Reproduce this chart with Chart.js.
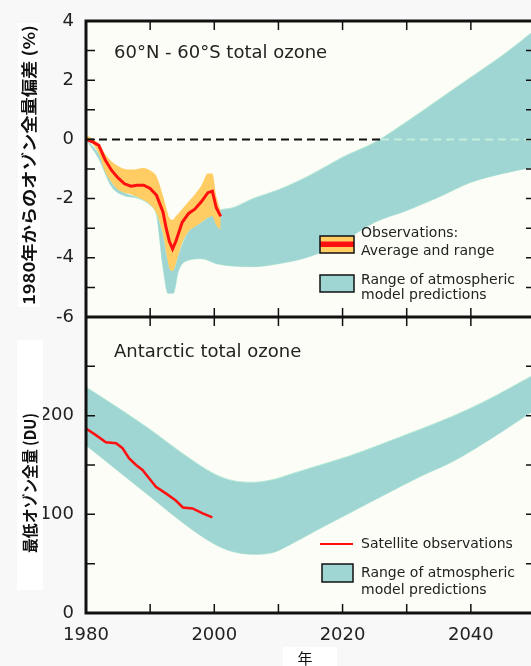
<!DOCTYPE html>
<html>
<head>
<meta charset="utf-8">
<script src="https://cdn.jsdelivr.net/npm/chart.js@4.4.1/dist/chart.umd.min.js"></script>
<style>
  html, body { margin: 0; padding: 0; background: #f8f8f8; overflow: hidden; }
  #wrap { width: 540px; height: 666px; }
</style>
</head>
<body>
<div id="wrap"><canvas id="ozone" width="540" height="666"></canvas></div>
<script>
// 60N-60S total ozone, deviation from 1980 (%)
const obsYears = [1980, 1981, 1982, 1983, 1984, 1985, 1986, 1987, 1988, 1989, 1990, 1991, 1992, 1992.5, 1993, 1993.5, 1994, 1995, 1996, 1997, 1998, 1999, 1999.7, 2000.3, 2001];
const obsAverage = [0.0, -0.08, -0.2, -0.7, -1.05, -1.3, -1.5, -1.58, -1.55, -1.55, -1.66, -1.89, -2.45, -3.0, -3.45, -3.7, -3.45, -2.8, -2.5, -2.35, -2.1, -1.8, -1.75, -2.3, -2.6];
const obsHigh = [0.16, 0.02, -0.15, -0.5, -0.75, -0.9, -1.0, -1.02, -1.0, -0.97, -1.05, -1.25, -1.9, -2.3, -2.65, -2.72, -2.6, -2.35, -2.1, -1.85, -1.55, -1.15, -1.15, -1.9, -2.4];
const obsLow = [0.0, -0.15, -0.5, -1.1, -1.45, -1.7, -1.8, -1.85, -1.95, -2.05, -2.2, -2.5, -3.2, -3.8, -4.35, -4.45, -4.2, -3.5, -3.1, -2.95, -2.8, -2.65, -2.6, -2.9, -3.05];

// model range; its upper edge before 2001 lies under the observations
const globalYears = [1980, 1982, 1984, 1986, 1988, 1990, 1991, 1992, 1992.8, 1993.6, 1994.4, 1995.7, 1998, 2000.4, 2003, 2006, 2010, 2015, 2020, 2025, 2030, 2035, 2040, 2045, 2050];
const globalModelHigh = [0, -0.5, -1.45, -1.8, -1.95, -2.2, -2.5, -3.2, -4.1, -4.4, -3.9, -3.2, -2.8, -2.42, -2.3, -2.0, -1.7, -1.2, -0.6, -0.1, 0.6, 1.35, 2.1, 2.85, 3.7];
const globalModelLow = [0, -0.65, -1.6, -1.9, -1.98, -2.22, -2.55, -4.3, -5.2, -5.2, -4.45, -4.1, -4.03, -4.2, -4.28, -4.3, -4.2, -3.95, -3.45, -2.8, -2.4, -1.95, -1.45, -1.15, -0.92];

// zero reference line, it runs into the model range around 2026
const zeroYears = [1980, 2026, 2050];
const zeroValues = [0, 0, 0];

// Antarctic minimum total ozone (DU)
const satYears = [1980, 1981.6, 1983.1, 1984.7, 1985.7, 1986.7, 1987.8, 1988.8, 1989.9, 1990.9, 1992.5, 1994, 1995.1, 1996.6, 1998.2, 1999.7];
const satValues = [187, 180, 173, 172, 167, 157, 150, 145, 136, 128, 121, 114, 107, 106, 101, 97];

const antYears = [1980, 1985, 1990, 1995, 2000, 2003, 2006, 2009, 2012, 2016, 2021, 2026, 2032, 2037, 2042, 2050];
const antModelHigh = [229, 208, 186, 162, 141, 134, 132.5, 135, 141, 149, 159, 171, 186, 199, 214, 242];
const antModelLow = [170, 144, 118, 92, 70, 62, 59.5, 61, 70, 84, 101, 118, 138, 153, 172, 206];

const xTickLabels = [1980, 2000, 2020, 2040];
const topTickLabels = [4, 2, 0, -2, -4, -6];
const botTickLabels = [0, 100, 200];

const FONT = '"DejaVu Sans", sans-serif';
const CJK = '"Noto Sans CJK JP", sans-serif';
const TEAL = '#9fd5d2';
const TEAL_EDGE = '#b6ead6';
const ORANGE = '#ffcd64';
const RED = '#ff1010';

const pts = (xs, ys) => xs.map((x, i) => ({ x: x, y: ys[i] }));

// filled range between two edge datasets
function band(label, data, axis, color, edge, fill) {
    return {
        label: label,
        data: data,
        yAxisID: axis,
        borderColor: edge || 'transparent',
        borderWidth: edge ? 1 : 0,
        backgroundColor: color,
        fill: fill,
        cubicInterpolationMode: 'monotone'
    };
}

// rotated / fitted text helper
function fitText(ctx, text, cx, cy, length, rotate) {
    const w = ctx.measureText(text).width;
    ctx.save();
    ctx.translate(cx, cy);
    if (rotate) ctx.rotate(-Math.PI / 2);
    ctx.scale(length / w, 1);
    ctx.textAlign = 'center';
    ctx.textBaseline = 'middle';
    ctx.fillText(text, 0, 0);
    ctx.restore();
}

const framePlugin = {
    id: 'frame',
    beforeDraw(chart) {
        const { ctx, chartArea: a } = chart;
        ctx.save();
        ctx.fillStyle = '#fdfdf7';
        ctx.fillRect(a.left, a.top, a.right - a.left, a.bottom - a.top);
        ctx.restore();
    },
    afterDraw(chart) {
        const { ctx, chartArea: a, scales } = chart;
        const x = scales.x, yT = scales.yTop, yB = scales.yBot;
        const mid = yT.bottom;
        const tick = 9;

        ctx.save();
        // inward ticks
        ctx.strokeStyle = '#111';
        ctx.lineWidth = 1.5;
        ctx.beginPath();
        x.ticks.forEach(t => {
            const px = x.getPixelForValue(t.value);
            [[a.top, 1], [mid, -1], [mid, 1], [a.bottom, -1]].forEach(([py, d]) => {
                ctx.moveTo(px, py);
                ctx.lineTo(px, py + d * tick);
            });
        });
        [yT, yB].forEach(s => {
            s.ticks.forEach(t => {
                const py = s.getPixelForValue(t.value);
                ctx.moveTo(a.left, py); ctx.lineTo(a.left + tick, py);
                ctx.moveTo(a.right, py); ctx.lineTo(a.right - tick, py);
            });
        });
        ctx.stroke();

        // frame
        ctx.lineWidth = 3;
        ctx.strokeRect(a.left, a.top, a.right - a.left, a.bottom - a.top);
        ctx.beginPath();
        ctx.moveTo(a.left, mid);
        ctx.lineTo(a.right, mid);
        ctx.stroke();

        // panel titles
        ctx.fillStyle = '#222';
        ctx.font = '18px ' + FONT;
        ctx.textAlign = 'left';
        ctx.textBaseline = 'alphabetic';
        ctx.fillText('60°N - 60°S total ozone', 114, 58);
        ctx.fillText('Antarctic total ozone', 114, 357);

        // top legend
        ctx.font = '14px ' + FONT;
        ctx.textBaseline = 'middle';
        ctx.fillStyle = ORANGE;
        ctx.fillRect(320, 236, 34, 17);
        ctx.fillStyle = RED;
        ctx.fillRect(320, 241.5, 34, 5.5);
        ctx.strokeStyle = '#111';
        ctx.lineWidth = 1.5;
        ctx.strokeRect(320, 236, 34, 17);
        ctx.fillStyle = TEAL;
        ctx.fillRect(320, 275, 34, 17);
        ctx.strokeRect(320, 275, 34, 17);
        ctx.fillStyle = '#222';
        ctx.fillText('Observations:', 361, 233);
        ctx.fillText('Average and range', 361, 251);
        ctx.fillText('Range of atmospheric', 361, 280);
        ctx.fillText('model predictions', 361, 295);

        // bottom legend
        ctx.strokeStyle = RED;
        ctx.lineWidth = 2;
        ctx.beginPath();
        ctx.moveTo(320, 544);
        ctx.lineTo(353, 544);
        ctx.stroke();
        ctx.fillStyle = TEAL;
        ctx.fillRect(322, 564, 31, 18);
        ctx.strokeStyle = '#111';
        ctx.lineWidth = 1.5;
        ctx.strokeRect(322, 564, 31, 18);
        ctx.fillStyle = '#222';
        ctx.fillText('Satellite observations', 361, 544);
        ctx.fillText('Range of atmospheric', 361, 573);
        ctx.fillText('model predictions', 361, 590);

        // axis titles on white boxes
        ctx.fillStyle = '#ffffff';
        ctx.fillRect(18, 23, 22, 284);
        ctx.fillRect(17, 340, 26, 250);
        ctx.fillRect(283, 647, 54, 19);
        ctx.fillStyle = '#111';
        ctx.font = 'bold 16px ' + CJK;
        fitText(ctx, '1980年からのオゾン全量偏差 (%)', 29, 165, 280, true);
        fitText(ctx, '最低オゾン全量 (DU)', 30, 483, 140, true);
        ctx.font = '15px ' + CJK;
        ctx.textAlign = 'center';
        ctx.textBaseline = 'middle';
        ctx.fillText('年', 305, 658);
        ctx.restore();
    }
};

// first dataset is drawn top-most
new Chart(document.getElementById('ozone'), {
    type: 'line',
    data: {
        datasets: [
            { label: 'Observations average', data: pts(obsYears, obsAverage), yAxisID: 'yTop', borderColor: RED, borderWidth: 3, fill: false, tension: 0 },
            { label: 'Satellite observations', data: pts(satYears, satValues), yAxisID: 'yBot', borderColor: RED, borderWidth: 2.5, fill: false, tension: 0 },
            {
                label: 'Zero', data: pts(zeroYears, zeroValues), yAxisID: 'yTop',
                borderWidth: 2, borderDash: [8, 5], fill: false,
                segment: { borderColor: c => c.p0DataIndex === 0 ? '#111' : '#c4eedc' }
            },
            band('Observations high', pts(obsYears, obsHigh), 'yTop', ORANGE, null, 4),
            band('Observations low', pts(obsYears, obsLow), 'yTop', ORANGE, null, false),
            band('Model high', pts(globalYears, globalModelHigh), 'yTop', TEAL, TEAL_EDGE, 6),
            band('Model low', pts(globalYears, globalModelLow), 'yTop', TEAL, TEAL_EDGE, false),
            band('Antarctic model high', pts(antYears, antModelHigh), 'yBot', TEAL, TEAL_EDGE, 8),
            band('Antarctic model low', pts(antYears, antModelLow), 'yBot', TEAL, TEAL_EDGE, false)
        ]
    },
    options: {
        responsive: false,
        animation: false,
        layout: { padding: { top: 21, right: 5, left: 0, bottom: 0 } },
        elements: { point: { radius: 0 } },
        plugins: { legend: { display: false }, tooltip: { enabled: false } },
        scales: {
            x: {
                type: 'linear', min: 1980, max: 2050,
                grid: { display: false }, border: { display: false },
                ticks: {
                    stepSize: 10, autoSkip: false, maxRotation: 0, padding: 4,
                    color: '#222', font: { family: FONT, size: 18 },
                    callback: v => xTickLabels.includes(v) ? String(v) : ''
                },
                afterFit: s => { s.height = 53; }
            },
            yBot: {
                type: 'linear', position: 'left', stack: 'panels', stackWeight: 1,
                min: 0, max: 300,
                grid: { display: false }, border: { display: false },
                ticks: {
                    stepSize: 50, autoSkip: false, padding: 4,
                    color: '#222', font: { family: FONT, size: 18 },
                    callback: v => botTickLabels.includes(v) ? String(v) : ''
                },
                afterFit: s => { s.width = 86; }
            },
            yTop: {
                type: 'linear', position: 'left', stack: 'panels', stackWeight: 1,
                min: -6, max: 4,
                grid: { display: false }, border: { display: false },
                ticks: {
                    stepSize: 1, autoSkip: false, padding: 4,
                    color: '#222', font: { family: FONT, size: 18 },
                    callback: v => topTickLabels.includes(v) ? String(v) : ''
                },
                afterFit: s => { s.width = 86; }
            }
        }
    },
    plugins: [framePlugin]
});
</script>
</body>
</html>
